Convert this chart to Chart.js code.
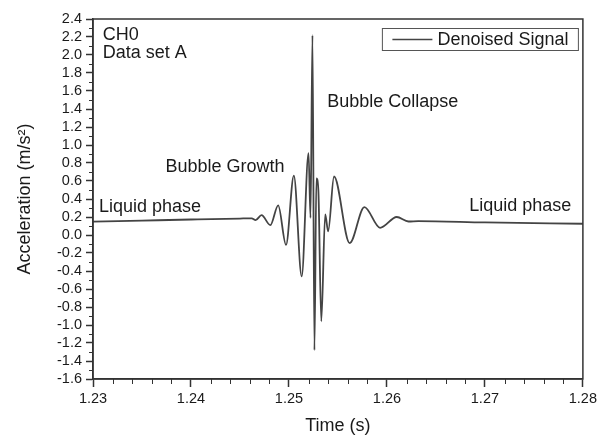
<!DOCTYPE html>
<html>
<head>
<meta charset="utf-8">
<script src="https://cdn.jsdelivr.net/npm/chart.js@4.4.1/dist/chart.umd.min.js"></script>
<style>
  html, body { margin: 0; padding: 0; background: #fff; }
</style>
</head>
<body>
<canvas id="grafico" width="600" height="440"></canvas>
<script>
// denoised signal
const tempos = [1.2300, 1.2350, 1.2400, 1.2450, 1.2462, 1.2466, 1.2472, 1.2481, 1.2489, 1.2497,
                1.2505, 1.2513, 1.2520, 1.2522, 1.2524, 1.2526, 1.2528, 1.2530, 1.2533, 1.2537,
                1.2540, 1.2546, 1.2562, 1.2577, 1.2593, 1.2610, 1.2622, 1.2632, 1.2700, 1.2800];
const aceleracao = [0.148, 0.160, 0.172, 0.183, 0.185, 0.165, 0.22, 0.11, 0.33, -0.11,
                    0.66, -0.46, 0.91, 0.19, 2.22, -1.28, 0.63, 0.50, -0.96, 0.23,
                    0.04, 0.65, -0.09, 0.31, 0.08, 0.20, 0.15, 0.155, 0.14, 0.125];

const serie = 'Denoised Signal';

// notes in data coordinates (time, acceleration)
const notasTexto = ['CH0', 'Data set A', 'Bubble Growth', 'Bubble Collapse', 'Liquid phase', 'Liquid phase'];
const notasT = [1.2310, 1.2310, 1.2374, 1.2539, 1.2306, 1.2684];
const notasV = [2.22, 2.02, 0.76, 1.48, 0.315, 0.32];

const fonte = '"Liberation Sans", Arial, sans-serif';
const corTexto = '#1a1a1a';
const corEixo = '#333';

// minor tick values
const xMenores = [];
for (let i = 0; i < 25; i++) { if (i % 5 !== 0) xMenores.push(1.23 + i * 0.002); }
const yMenores = [];
for (let i = 0; i < 20; i++) yMenores.push(-1.5 + i * 0.2);

const moldura = {
    id: 'moldura',
    afterDraw(chart) {
        const ctx = chart.ctx;
        const a = chart.chartArea;
        const x = chart.scales.x;
        const y = chart.scales.y;
        ctx.save();
        ctx.strokeStyle = corEixo;
        ctx.lineWidth = 1.5;
        ctx.strokeRect(a.left, a.top, a.right - a.left, a.bottom - a.top);

        ctx.lineWidth = 1;
        ctx.beginPath();
        yMenores.forEach(v => {
            const py = Math.round(y.getPixelForValue(v)) + 0.5;
            ctx.moveTo(a.left - 4, py);
            ctx.lineTo(a.left, py);
        });
        xMenores.forEach(v => {
            const px = Math.round(x.getPixelForValue(v)) + 0.5;
            ctx.moveTo(px, a.bottom);
            ctx.lineTo(px, a.bottom + 5);
        });
        ctx.stroke();

        ctx.fillStyle = corTexto;
        ctx.font = '18px ' + fonte;
        ctx.textAlign = 'left';
        ctx.textBaseline = 'middle';
        notasTexto.forEach((t, i) => {
            ctx.fillText(t, x.getPixelForValue(notasT[i]), y.getPixelForValue(notasV[i]));
        });

        // legend box
        const bx = a.right - 200.5, by = a.top + 9.5, bw = 196, bh = 22;
        ctx.strokeStyle = '#555';
        ctx.lineWidth = 1;
        ctx.strokeRect(bx, by, bw, bh);
        ctx.strokeStyle = '#444';
        ctx.lineWidth = 1.5;
        ctx.beginPath();
        ctx.moveTo(bx + 10, by + bh / 2);
        ctx.lineTo(bx + 50, by + bh / 2);
        ctx.stroke();
        ctx.fillText(serie, bx + 55, by + bh / 2 + 1);
        ctx.restore();
    }
};

new Chart(document.getElementById('grafico'), {
    type: 'line',
    data: {
        datasets: [{
            label: serie,
            data: tempos.map((t, i) => ({ x: t, y: aceleracao[i] })),
            borderColor: '#444',
            borderWidth: 1.8,
            pointRadius: 0,
            fill: false,
            cubicInterpolationMode: 'monotone'
        }]
    },
    options: {
        responsive: false,
        devicePixelRatio: 1,
        animation: false,
        layout: { padding: { top: 19, right: 13, left: 0, bottom: 0 } },
        plugins: { legend: { display: false }, tooltip: { enabled: false } },
        scales: {
            x: {
                type: 'linear',
                min: 1.23,
                max: 1.28,
                ticks: {
                    stepSize: 0.01,
                    autoSkip: false,
                    maxRotation: 0,
                    padding: 3,
                    color: corTexto,
                    font: { family: fonte, size: 14.5 },
                    callback: v => v.toFixed(2)
                },
                grid: { drawOnChartArea: false, tickLength: 8, color: corEixo, tickWidth: 1.5 },
                border: { color: corEixo, width: 1.5 },
                title: {
                    display: true,
                    text: 'Time (s)',
                    color: corTexto,
                    font: { family: fonte, size: 18 },
                    padding: { top: 0, bottom: 3 }
                },
                afterFit: s => { s.height = 61; }
            },
            y: {
                min: -1.6,
                max: 2.4,
                ticks: {
                    stepSize: 0.2,
                    autoSkip: false,
                    padding: 4,
                    color: corTexto,
                    font: { family: fonte, size: 14.5 },
                    callback: v => (Math.abs(v) < 1e-9 ? 0 : v).toFixed(1)
                },
                grid: { drawOnChartArea: false, tickLength: 7, color: corEixo, tickWidth: 1.5 },
                border: { color: corEixo, width: 1.5 },
                title: {
                    display: true,
                    text: 'Acceleration (m/s²)',
                    color: corTexto,
                    font: { family: fonte, size: 18 },
                    padding: { top: 14, bottom: 0 }
                },
                afterFit: s => { s.width = 93; }
            }
        }
    },
    plugins: [moldura]
});
</script>
</body>
</html>
